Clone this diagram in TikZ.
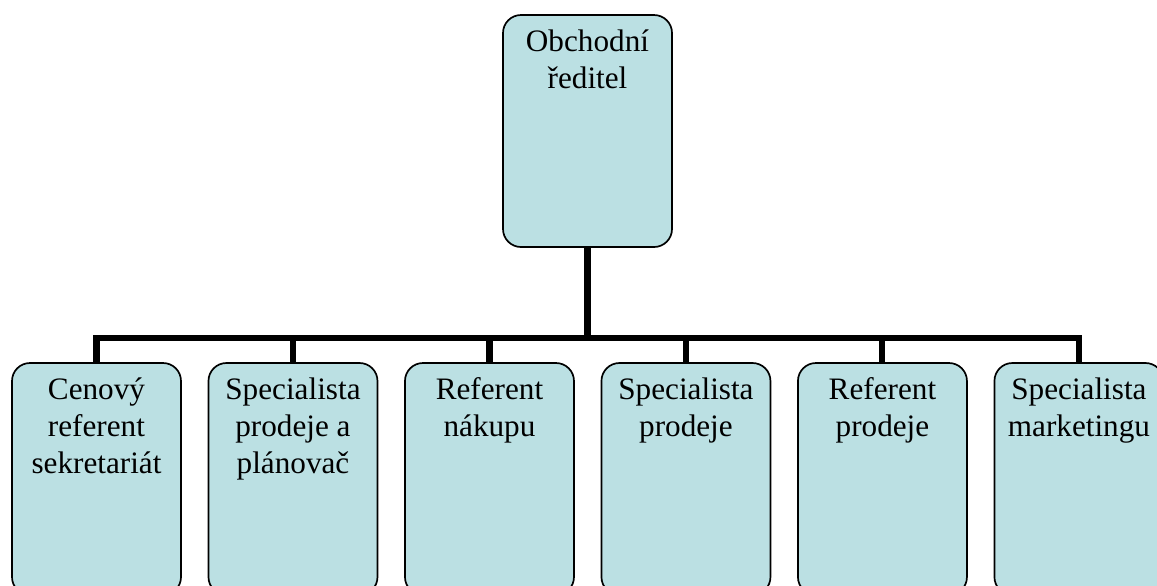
\documentclass[tikz,border=0pt]{standalone}
\usepackage{fontspec}
\setmainfont{Liberation Serif}
\usetikzlibrary{positioning}
\definecolor{postfill}{RGB}{187,224,227}
\tikzset{
  % Define style for the post boxes
  post/.style={
    rectangle,
    rounded corners=0.45cm,
    draw=black, line width=1.2pt,
    fill=postfill,
    minimum width=4.225cm,
    minimum height=5.8cm},
  % Define style for the text in a box
  posttext/.style={
    inner sep=0pt,
    align=center,
    font=\fontsize{22.2}{26.3}\selectfont},
  % Define connector style
  link/.style={draw, line width=4.3pt},
}
\begin{document}
\begin{tikzpicture}[node distance=0.645cm]
  \clip (0,0) rectangle (28.925,-14.625);
  % nodes
  \node[post] (head) at (14.6875,-3.275) {};
  \node[post] (cen) at (2.4125,-11.975) {};
  \node[post, right=of cen] (spa) {};
  \node[post, right=of spa] (ren) {};
  \node[post, right=of ren] (spp) {};
  \node[post, right=of spp] (rep) {};
  \node[post, right=of rep] (spm) {};
  % texts
  \node[posttext, below=0.275cm of head.north] (headtxt) {\strut Obchodní\\ředitel};
  \node[posttext, below=0.275cm of cen.north] (centxt) {\strut Cenový\\referent\\sekretariát};
  \node[posttext, below=0.275cm of spa.north] (spatxt) {\strut Specialista\\prodeje a\\plánovač};
  \node[posttext, below=0.275cm of ren.north] (rentxt) {\strut Referent\\nákupu};
  \node[posttext, below=0.275cm of spp.north] (spptxt) {\strut Specialista\\prodeje};
  \node[posttext, below=0.275cm of rep.north] (reptxt) {\strut Referent\\prodeje};
  \node[posttext, below=0.275cm of spm.north] (spmtxt) {\strut Specialista\\marketingu};
  % connectors
  \coordinate (bus) at (14.675,-8.45);
  \path[link] (head.south) -- (head.south |- bus);
  \path[link] (cen.north) |- (bus) -| (spm.north);
  \path[link] (spa.north) -- (spa.north |- bus);
  \path[link] (ren.north) -- (ren.north |- bus);
  \path[link] (spp.north) -- (spp.north |- bus);
  \path[link] (rep.north) -- (rep.north |- bus);
\end{tikzpicture}
\end{document}
